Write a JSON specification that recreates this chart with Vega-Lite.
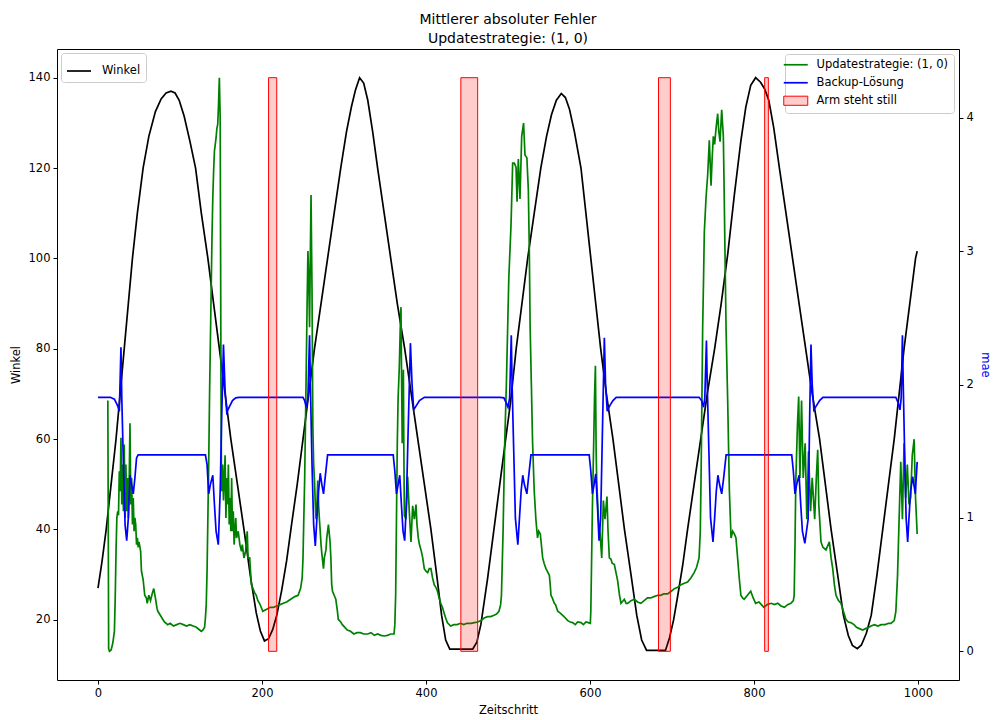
{
  "$schema": "https://vega.github.io/schema/vega-lite/v6.json",
  "width": 902,
  "height": 631,
  "autosize": {"type": "none"},
  "padding": {"left": 57, "top": 49, "right": 36, "bottom": 40},
  "background": "white",
  "title": {
    "text": ["Mittlerer absoluter Fehler", "Updatestrategie: (1, 0)"],
    "fontSize": 14,
    "fontWeight": "normal",
    "font": "DejaVu Sans",
    "color": "black",
    "anchor": "middle",
    "lineHeight": 19,
    "offset": 3
  },
  "config": {
    "font": "DejaVu Sans",
    "view": {"stroke": "black", "strokeWidth": 1},
    "axis": {
      "grid": false,
      "domain": false,
      "tickColor": "black",
      "labelColor": "black",
      "labelFontSize": 11.5,
      "titleFontSize": 11.5,
      "titleFontWeight": "normal",
      "titleColor": "black",
      "tickSize": 4,
      "labelPadding": 3,
      "labelFont": "DejaVu Sans",
      "titleFont": "DejaVu Sans"
    },
    "legend": {
      "title": null,
      "fillColor": "white",
      "strokeColor": "#cccccc",
      "cornerRadius": 3,
      "padding": 5,
      "labelFontSize": 11.5,
      "labelFont": "DejaVu Sans",
      "labelColor": "black",
      "labelOffset": 10,
      "symbolSize": 576,
      "symbolStrokeWidth": 1.7,
      "rowPadding": 5,
      "labelLimit": 300
    }
  },
  "datasets": {
    "winkel": [
      {"t":0,"v":27},{"t":5,"v":33},{"t":10,"v":40},{"t":16,"v":50},{"t":22,"v":60},{"t":27,"v":70},{"t":32,"v":80},{"t":37,"v":90},{"t":42,"v":100},{"t":48,"v":110},{"t":55,"v":120},{"t":62,"v":127},{"t":70,"v":132.5},{"t":77,"v":135.3},{"t":83,"v":136.6},{"t":89,"v":137},{"t":94,"v":136.6},{"t":99,"v":135},{"t":105,"v":131.5},{"t":112,"v":126},{"t":119,"v":120},{"t":126,"v":110},{"t":134,"v":100},{"t":141,"v":90},{"t":148,"v":80},{"t":155,"v":70},{"t":162,"v":60},{"t":170,"v":50},{"t":178,"v":40},{"t":186,"v":29.5},{"t":193,"v":21.5},{"t":198,"v":17.5},{"t":203,"v":15.3},{"t":208,"v":15.8},{"t":213,"v":17.8},{"t":218,"v":21},{"t":224,"v":26.5},{"t":230,"v":33},{"t":236,"v":41},{"t":243,"v":50},{"t":250,"v":60},{"t":257,"v":70},{"t":264,"v":80},{"t":272,"v":90},{"t":280,"v":100},{"t":288,"v":110},{"t":296,"v":120},{"t":303,"v":128},{"t":309,"v":133.5},{"t":314,"v":137.3},{"t":319,"v":140},{"t":324,"v":138.8},{"t":329,"v":135},{"t":335,"v":128},{"t":341,"v":120},{"t":349,"v":110},{"t":357,"v":100},{"t":365,"v":90},{"t":374,"v":80},{"t":382,"v":70},{"t":390,"v":60},{"t":398,"v":50},{"t":406,"v":40},{"t":413,"v":30},{"t":419,"v":21},{"t":424,"v":15.5},{"t":429,"v":13.5},{"t":457,"v":13.5},{"t":462,"v":15},{"t":467,"v":19},{"t":475,"v":29},{"t":485,"v":43},{"t":495,"v":57},{"t":503,"v":68},{"t":510,"v":80},{"t":517,"v":90},{"t":524,"v":100},{"t":532,"v":110},{"t":540,"v":120},{"t":547,"v":127},{"t":553,"v":131.8},{"t":559,"v":135},{"t":565,"v":136.5},{"t":570,"v":135.6},{"t":575,"v":133},{"t":581,"v":128},{"t":589,"v":120},{"t":595,"v":110},{"t":601,"v":100},{"t":607,"v":90},{"t":613,"v":80},{"t":620,"v":70},{"t":628,"v":60},{"t":635,"v":50},{"t":642,"v":40},{"t":650,"v":30},{"t":657,"v":21},{"t":663,"v":15.5},{"t":669,"v":13.2},{"t":692,"v":13.2},{"t":697,"v":16},{"t":702,"v":20},{"t":707,"v":25.3},{"t":713,"v":32},{"t":719,"v":40},{"t":727,"v":50},{"t":735,"v":60},{"t":743,"v":70},{"t":752,"v":80},{"t":760,"v":90},{"t":768,"v":101},{"t":776,"v":114},{"t":784,"v":126},{"t":790,"v":133.5},{"t":796,"v":138.3},{"t":802,"v":140},{"t":808,"v":139},{"t":813,"v":137.5},{"t":818,"v":135},{"t":824,"v":129},{"t":831,"v":120},{"t":839,"v":110},{"t":847,"v":100},{"t":855,"v":90},{"t":863,"v":80},{"t":871,"v":70},{"t":880,"v":60},{"t":887,"v":50},{"t":894,"v":40},{"t":902,"v":30},{"t":909,"v":21},{"t":915,"v":16.5},{"t":920,"v":14.3},{"t":926,"v":13.6},{"t":931,"v":14.4},{"t":937,"v":17},{"t":943,"v":21},{"t":950,"v":30},{"t":957,"v":40},{"t":964,"v":50},{"t":971,"v":60},{"t":977,"v":70},{"t":983,"v":80},{"t":990,"v":90},{"t":997,"v":100},{"t":999,"v":101.6}
    ],
    "green": [
      {"t":12,"v":1.88},{"t":13,"v":0.02},{"t":14,"v":0.0},{"t":16,"v":0.01},{"t":18,"v":0.06},{"t":20,"v":0.15},{"t":21,"v":0.4},{"t":22,"v":0.75},{"t":23,"v":1.0},{"t":24,"v":1.05},{"t":25,"v":1.02},{"t":26,"v":1.35},{"t":27,"v":1.2},{"t":28,"v":1.6},{"t":29,"v":1.1},{"t":30,"v":1.4},{"t":31,"v":1.05},{"t":32,"v":1.55},{"t":33,"v":1.0},{"t":34,"v":1.4},{"t":35,"v":1.05},{"t":36,"v":1.3},{"t":37,"v":1.0},{"t":38,"v":1.25},{"t":39,"v":1.71},{"t":40,"v":1.1},{"t":41,"v":1.3},{"t":42,"v":0.95},{"t":43,"v":1.15},{"t":44,"v":0.9},{"t":45,"v":1.0},{"t":46,"v":0.95},{"t":47,"v":0.8},{"t":48,"v":0.85},{"t":49,"v":0.78},{"t":50,"v":0.82},{"t":52,"v":0.75},{"t":53,"v":0.6},{"t":55,"v":0.54},{"t":57,"v":0.42},{"t":59,"v":0.4},{"t":60,"v":0.36},{"t":62,"v":0.42},{"t":64,"v":0.38},{"t":66,"v":0.43},{"t":68,"v":0.47},{"t":70,"v":0.4},{"t":72,"v":0.32},{"t":73,"v":0.3},{"t":76,"v":0.27},{"t":78,"v":0.25},{"t":81,"v":0.22},{"t":85,"v":0.2},{"t":88,"v":0.21},{"t":92,"v":0.19},{"t":96,"v":0.2},{"t":100,"v":0.21},{"t":104,"v":0.2},{"t":108,"v":0.19},{"t":112,"v":0.2},{"t":116,"v":0.19},{"t":120,"v":0.18},{"t":124,"v":0.16},{"t":126,"v":0.15},{"t":128,"v":0.16},{"t":130,"v":0.18},{"t":131,"v":0.25},{"t":132,"v":0.35},{"t":133,"v":0.6},{"t":134,"v":1.0},{"t":135,"v":1.4},{"t":136,"v":1.9},{"t":137,"v":2.3},{"t":138,"v":2.7},{"t":139,"v":3.1},{"t":140,"v":3.4},{"t":141,"v":3.6},{"t":142,"v":3.75},{"t":143,"v":3.8},{"t":144,"v":3.85},{"t":145,"v":3.92},{"t":146,"v":3.95},{"t":147,"v":4.1},{"t":148,"v":4.3},{"t":149,"v":4.0},{"t":150,"v":2.0},{"t":150.5,"v":1.34},{"t":151,"v":1.2},{"t":152,"v":1.4},{"t":153,"v":1.13},{"t":154,"v":1.3},{"t":155,"v":1.47},{"t":156,"v":1.0},{"t":157,"v":1.3},{"t":158,"v":1.1},{"t":159,"v":1.4},{"t":160,"v":0.95},{"t":161,"v":1.15},{"t":162,"v":0.9},{"t":163,"v":1.3},{"t":164,"v":0.9},{"t":165,"v":1.05},{"t":166,"v":0.8},{"t":168,"v":1.0},{"t":169,"v":0.85},{"t":171,"v":0.9},{"t":173,"v":0.8},{"t":175,"v":0.75},{"t":176,"v":0.8},{"t":178,"v":0.7},{"t":180,"v":0.75},{"t":182,"v":0.9},{"t":183,"v":0.7},{"t":185,"v":0.7},{"t":187,"v":0.5},{"t":189,"v":0.47},{"t":191,"v":0.44},{"t":193,"v":0.42},{"t":195,"v":0.38},{"t":197,"v":0.36},{"t":199,"v":0.33},{"t":201,"v":0.3},{"t":204,"v":0.31},{"t":207,"v":0.32},{"t":210,"v":0.33},{"t":214,"v":0.33},{"t":218,"v":0.34},{"t":222,"v":0.35},{"t":226,"v":0.36},{"t":230,"v":0.37},{"t":235,"v":0.39},{"t":240,"v":0.41},{"t":244,"v":0.42},{"t":247,"v":0.47},{"t":249,"v":0.55},{"t":250,"v":0.7},{"t":251,"v":1.0},{"t":252,"v":1.28},{"t":253,"v":1.7},{"t":254,"v":2.14},{"t":255,"v":2.6},{"t":256,"v":3.0},{"t":257,"v":2.8},{"t":258,"v":2.43},{"t":259,"v":3.0},{"t":259.8,"v":3.42},{"t":260.5,"v":3.0},{"t":261,"v":2.71},{"t":262,"v":1.69},{"t":263,"v":1.4},{"t":264,"v":1.28},{"t":265,"v":1.1},{"t":266,"v":0.99},{"t":267,"v":1.1},{"t":268,"v":1.28},{"t":269,"v":1.1},{"t":270,"v":0.99},{"t":271,"v":0.9},{"t":272,"v":0.8},{"t":273,"v":0.73},{"t":275,"v":0.62},{"t":276,"v":0.7},{"t":278,"v":0.76},{"t":279,"v":0.85},{"t":281,"v":0.95},{"t":283,"v":0.82},{"t":284,"v":0.7},{"t":285,"v":0.5},{"t":286,"v":0.45},{"t":288,"v":0.42},{"t":290,"v":0.39},{"t":292,"v":0.3},{"t":293,"v":0.24},{"t":296,"v":0.22},{"t":298,"v":0.2},{"t":301,"v":0.18},{"t":304,"v":0.16},{"t":308,"v":0.15},{"t":312,"v":0.13},{"t":316,"v":0.14},{"t":320,"v":0.14},{"t":324,"v":0.13},{"t":329,"v":0.13},{"t":333,"v":0.14},{"t":337,"v":0.12},{"t":341,"v":0.13},{"t":345,"v":0.12},{"t":349,"v":0.115},{"t":353,"v":0.12},{"t":357,"v":0.13},{"t":361,"v":0.13},{"t":362,"v":0.2},{"t":363,"v":0.42},{"t":364,"v":1.0},{"t":365,"v":1.56},{"t":366,"v":1.9},{"t":367.5,"v":2.14},{"t":368.5,"v":2.4},{"t":369.5,"v":2.58},{"t":370,"v":2.2},{"t":371,"v":1.56},{"t":372,"v":1.8},{"t":372.4,"v":2.11},{"t":373,"v":1.5},{"t":373.6,"v":1.02},{"t":375.6,"v":0.99},{"t":377.6,"v":1.31},{"t":379.6,"v":1.05},{"t":381.7,"v":0.82},{"t":383.7,"v":1.09},{"t":385.8,"v":0.99},{"t":387.8,"v":1.1},{"t":389,"v":0.95},{"t":390.6,"v":0.85},{"t":392,"v":0.8},{"t":393.9,"v":0.76},{"t":396,"v":0.7},{"t":397.9,"v":0.62},{"t":400,"v":0.6},{"t":402,"v":0.59},{"t":404,"v":0.62},{"t":406,"v":0.62},{"t":408,"v":0.55},{"t":410,"v":0.5},{"t":412,"v":0.48},{"t":414,"v":0.45},{"t":416,"v":0.4},{"t":418,"v":0.36},{"t":420,"v":0.33},{"t":422,"v":0.29},{"t":424,"v":0.25},{"t":426,"v":0.215},{"t":430,"v":0.19},{"t":434,"v":0.2},{"t":438,"v":0.2},{"t":442,"v":0.21},{"t":446,"v":0.2},{"t":450,"v":0.21},{"t":455,"v":0.21},{"t":459,"v":0.215},{"t":463,"v":0.22},{"t":467,"v":0.23},{"t":471,"v":0.25},{"t":475,"v":0.26},{"t":479,"v":0.26},{"t":483,"v":0.27},{"t":486,"v":0.28},{"t":489,"v":0.3},{"t":491,"v":0.35},{"t":492,"v":0.42},{"t":494,"v":0.9},{"t":496,"v":1.56},{"t":498,"v":2.0},{"t":499.6,"v":2.43},{"t":501,"v":2.8},{"t":503.7,"v":3.2},{"t":505.7,"v":3.66},{"t":507.7,"v":3.66},{"t":509.8,"v":3.63},{"t":511,"v":3.37},{"t":512.6,"v":3.69},{"t":514.6,"v":3.39},{"t":516.7,"v":3.86},{"t":519,"v":3.96},{"t":520.7,"v":3.72},{"t":523,"v":3.7},{"t":524.8,"v":3.46},{"t":526,"v":3.0},{"t":527,"v":2.43},{"t":528.5,"v":2.0},{"t":530,"v":1.56},{"t":532,"v":1.2},{"t":534,"v":0.99},{"t":536,"v":0.85},{"t":537.5,"v":0.9},{"t":539.4,"v":0.88},{"t":541,"v":0.78},{"t":542.3,"v":0.7},{"t":544,"v":0.66},{"t":546.3,"v":0.62},{"t":548,"v":0.6},{"t":550.4,"v":0.57},{"t":551.5,"v":0.5},{"t":552.4,"v":0.42},{"t":554,"v":0.4},{"t":556.5,"v":0.36},{"t":558,"v":0.35},{"t":560.6,"v":0.3},{"t":563,"v":0.29},{"t":566.7,"v":0.27},{"t":570,"v":0.25},{"t":572.8,"v":0.23},{"t":576,"v":0.22},{"t":578.9,"v":0.215},{"t":582,"v":0.2},{"t":585,"v":0.22},{"t":589,"v":0.215},{"t":592,"v":0.2},{"t":595,"v":0.22},{"t":598,"v":0.215},{"t":600.4,"v":0.21},{"t":601,"v":0.3},{"t":602,"v":0.7},{"t":603,"v":1.1},{"t":604.5,"v":1.56},{"t":605.5,"v":1.9},{"t":606.6,"v":2.14},{"t":607.5,"v":1.5},{"t":608.2,"v":1.28},{"t":610.2,"v":0.99},{"t":612.3,"v":0.88},{"t":614.3,"v":0.7},{"t":616.3,"v":1.13},{"t":618.3,"v":0.99},{"t":620.7,"v":1.16},{"t":622,"v":0.9},{"t":623.6,"v":0.7},{"t":625.6,"v":0.69},{"t":627,"v":0.66},{"t":629.7,"v":0.65},{"t":632,"v":0.58},{"t":633.7,"v":0.53},{"t":636,"v":0.42},{"t":637.8,"v":0.36},{"t":641.9,"v":0.39},{"t":644,"v":0.36},{"t":646,"v":0.36},{"t":650,"v":0.38},{"t":654,"v":0.39},{"t":658,"v":0.37},{"t":662,"v":0.36},{"t":666,"v":0.38},{"t":670,"v":0.4},{"t":674,"v":0.4},{"t":678,"v":0.41},{"t":682.5,"v":0.42},{"t":686,"v":0.42},{"t":690,"v":0.43},{"t":694.7,"v":0.43},{"t":699,"v":0.45},{"t":702.8,"v":0.47},{"t":707,"v":0.48},{"t":711,"v":0.5},{"t":715,"v":0.51},{"t":719,"v":0.52},{"t":723,"v":0.55},{"t":727,"v":0.59},{"t":730,"v":0.63},{"t":733,"v":0.7},{"t":734.5,"v":0.9},{"t":735.4,"v":1.28},{"t":736.5,"v":1.9},{"t":737.4,"v":2.43},{"t":738.5,"v":2.8},{"t":739.4,"v":3.14},{"t":741.5,"v":3.4},{"t":743.5,"v":3.57},{"t":745.5,"v":3.83},{"t":747.6,"v":3.49},{"t":749,"v":3.7},{"t":750.4,"v":3.86},{"t":752,"v":3.8},{"t":753.7,"v":3.92},{"t":755.7,"v":4.03},{"t":757,"v":3.9},{"t":758.6,"v":3.82},{"t":760.6,"v":4.06},{"t":762.6,"v":3.86},{"t":763.5,"v":3.5},{"t":764.6,"v":3.0},{"t":766,"v":2.4},{"t":768,"v":1.85},{"t":770,"v":1.2},{"t":772,"v":0.85},{"t":774,"v":0.9},{"t":776,"v":0.88},{"t":778,"v":0.85},{"t":780,"v":0.7},{"t":782,"v":0.55},{"t":784,"v":0.42},{"t":786,"v":0.4},{"t":788,"v":0.39},{"t":792,"v":0.42},{"t":796,"v":0.45},{"t":799,"v":0.4},{"t":802,"v":0.36},{"t":806,"v":0.37},{"t":809,"v":0.35},{"t":812,"v":0.33},{"t":816,"v":0.35},{"t":821,"v":0.36},{"t":825,"v":0.35},{"t":829,"v":0.36},{"t":833,"v":0.34},{"t":837,"v":0.33},{"t":841,"v":0.35},{"t":845,"v":0.36},{"t":848,"v":0.38},{"t":849,"v":0.42},{"t":850,"v":0.8},{"t":851,"v":1.28},{"t":853,"v":1.7},{"t":854.5,"v":1.91},{"t":856,"v":1.3},{"t":858,"v":1.88},{"t":860,"v":1.3},{"t":862.4,"v":1.56},{"t":864.4,"v":0.99},{"t":866.5,"v":1.5},{"t":869,"v":1.05},{"t":871,"v":1.3},{"t":874,"v":0.99},{"t":876,"v":1.3},{"t":877.7,"v":1.51},{"t":879,"v":1.1},{"t":881.7,"v":0.82},{"t":884,"v":0.78},{"t":887.8,"v":0.76},{"t":891.9,"v":0.82},{"t":894,"v":0.7},{"t":896,"v":0.62},{"t":898,"v":0.5},{"t":900,"v":0.42},{"t":903,"v":0.38},{"t":906,"v":0.36},{"t":909,"v":0.3},{"t":912,"v":0.24},{"t":915,"v":0.22},{"t":918,"v":0.215},{"t":922,"v":0.2},{"t":925,"v":0.18},{"t":928.5,"v":0.17},{"t":932.6,"v":0.16},{"t":936,"v":0.17},{"t":940,"v":0.18},{"t":942.7,"v":0.19},{"t":947,"v":0.2},{"t":951,"v":0.19},{"t":955,"v":0.2},{"t":960,"v":0.2},{"t":964,"v":0.21},{"t":967,"v":0.21},{"t":971,"v":0.23},{"t":973,"v":0.3},{"t":975,"v":0.56},{"t":977,"v":1.0},{"t":979,"v":1.42},{"t":981,"v":0.99},{"t":983,"v":1.56},{"t":985,"v":1.15},{"t":987,"v":1.4},{"t":989,"v":1.1},{"t":991,"v":1.15},{"t":993,"v":1.47},{"t":995.3,"v":1.59},{"t":997,"v":1.15},{"t":999,"v":0.88}
    ],
    "blue": [
      {"t":0,"v":1.904},{"t":15,"v":1.904},{"t":20,"v":1.89},{"t":24,"v":1.84},{"t":26,"v":1.8},{"t":28,"v":2.28},{"t":29,"v":1.9},{"t":31,"v":1.4},{"t":33,"v":0.95},{"t":35,"v":0.83},{"t":37,"v":1.0},{"t":39,"v":1.32},{"t":41,"v":1.25},{"t":43,"v":1.18},{"t":45,"v":1.3},{"t":47,"v":1.45},{"t":49,"v":1.473},{"t":131,"v":1.473},{"t":133,"v":1.4},{"t":135,"v":1.18},{"t":137,"v":1.25},{"t":140,"v":1.32},{"t":142,"v":1.1},{"t":144,"v":0.9},{"t":146.7,"v":0.8},{"t":149,"v":1.2},{"t":151,"v":1.8},{"t":153,"v":2.3},{"t":155,"v":1.95},{"t":157,"v":1.79},{"t":160,"v":1.83},{"t":164,"v":1.88},{"t":168,"v":1.9},{"t":172,"v":1.904},{"t":250,"v":1.904},{"t":252,"v":1.88},{"t":254,"v":1.83},{"t":256,"v":1.9},{"t":258,"v":2.37},{"t":259,"v":2.0},{"t":261,"v":1.4},{"t":263,"v":0.95},{"t":265,"v":0.79},{"t":267,"v":1.0},{"t":269,"v":1.2},{"t":271,"v":1.335},{"t":273,"v":1.25},{"t":275,"v":1.18},{"t":277,"v":1.3},{"t":280,"v":1.473},{"t":360,"v":1.473},{"t":362,"v":1.35},{"t":364,"v":1.18},{"t":366,"v":1.25},{"t":368,"v":1.32},{"t":370,"v":1.1},{"t":372,"v":0.9},{"t":374,"v":0.83},{"t":376,"v":1.1},{"t":378,"v":1.6},{"t":381,"v":2.31},{"t":383,"v":2.0},{"t":385,"v":1.81},{"t":388,"v":1.84},{"t":392,"v":1.88},{"t":398,"v":1.904},{"t":490,"v":1.904},{"t":495,"v":1.9},{"t":498,"v":1.86},{"t":500,"v":1.83},{"t":502,"v":1.9},{"t":504,"v":2.37},{"t":505,"v":2.0},{"t":507,"v":1.5},{"t":509,"v":1.0},{"t":512,"v":0.8},{"t":514,"v":1.0},{"t":516,"v":1.2},{"t":518,"v":1.32},{"t":520,"v":1.25},{"t":523,"v":1.18},{"t":525,"v":1.3},{"t":528,"v":1.473},{"t":599,"v":1.473},{"t":601,"v":1.35},{"t":603,"v":1.18},{"t":605,"v":1.25},{"t":607,"v":1.33},{"t":609,"v":1.1},{"t":611,"v":0.83},{"t":613,"v":1.0},{"t":615,"v":1.6},{"t":617.5,"v":2.35},{"t":619,"v":2.0},{"t":621,"v":1.8},{"t":624,"v":1.84},{"t":628,"v":1.88},{"t":632,"v":1.904},{"t":733,"v":1.904},{"t":736,"v":1.88},{"t":738.5,"v":1.83},{"t":740,"v":1.9},{"t":742,"v":2.33},{"t":743,"v":2.0},{"t":745,"v":1.5},{"t":747,"v":1.0},{"t":750,"v":0.82},{"t":752,"v":1.0},{"t":754,"v":1.2},{"t":756,"v":1.32},{"t":758,"v":1.25},{"t":760.6,"v":1.18},{"t":763,"v":1.3},{"t":766,"v":1.473},{"t":846,"v":1.473},{"t":848,"v":1.35},{"t":850,"v":1.18},{"t":852,"v":1.25},{"t":855,"v":1.32},{"t":857,"v":1.1},{"t":859,"v":0.9},{"t":862,"v":0.81},{"t":866,"v":0.99},{"t":868,"v":1.8},{"t":869.5,"v":2.3},{"t":871,"v":2.0},{"t":873,"v":1.81},{"t":876,"v":1.84},{"t":880,"v":1.88},{"t":884,"v":1.904},{"t":973,"v":1.904},{"t":976,"v":1.86},{"t":978,"v":1.81},{"t":979.5,"v":1.9},{"t":981,"v":2.37},{"t":982,"v":2.0},{"t":984,"v":1.4},{"t":985.5,"v":1.0},{"t":987.4,"v":0.82},{"t":989,"v":1.0},{"t":991,"v":1.2},{"t":993.5,"v":1.31},{"t":996.7,"v":1.18},{"t":999,"v":1.42}
    ],
    "still": [
      {"s":208,"e":218,"lo":0,"hi":4.3},
      {"s":442.5,"e":463,"lo":0,"hi":4.3},
      {"s":683.5,"e":698,"lo":0,"hi":4.3},
      {"s":813,"e":817.5,"lo":0,"hi":4.3}
    ]
  },
  "layer": [
    {
      "data": {"name": "winkel"},
      "mark": {"type": "line", "strokeWidth": 1.7, "clip": true},
      "encoding": {
        "x": {"field": "t", "type": "quantitative", "scale": {"domain": [-50, 1050], "nice": false, "zero": false}, "axis": {"values": [0, 200, 400, 600, 800, 1000], "format": "d", "title": "Zeitschritt", "titlePadding": 6}},
        "y": {"field": "v", "type": "quantitative", "scale": {"domain": [6.65, 146.35], "nice": false, "zero": false}, "axis": {"orient": "left", "values": [20, 40, 60, 80, 100, 120, 140], "title": "Winkel", "titlePadding": 7}},
        "color": {"datum": "Winkel", "scale": {"domain": ["Winkel"], "range": ["black"]}, "legend": {"orient": "top-left", "offset": 4, "symbolType": {"expr": "'stroke'"}}}
      }
    },
    {
      "layer": [
        {
          "data": {"name": "green"},
          "mark": {"type": "line", "strokeWidth": 1.7, "clip": true},
          "encoding": {
            "x": {"field": "t", "type": "quantitative"},
            "y": {"field": "v", "type": "quantitative", "scale": {"domain": [-0.215, 4.515], "nice": false, "zero": false}, "axis": {"orient": "right", "values": [0, 1, 2, 3, 4], "title": "mae", "titleColor": "blue", "titlePadding": 6}},
            "color": {
              "datum": "Updatestrategie: (1, 0)",
              "scale": {"domain": ["Updatestrategie: (1, 0)", "Backup-Lösung", "Arm steht still"], "range": ["green", "blue", "red"]},
              "legend": {
                "orient": "top-right",
                "offset": 5,
                "labelOffset": 15,
                "symbolType": {"expr": "datum.value === 'Arm steht still' ? 'M-1,-0.38H1V0.38H-1Z' : 'stroke'"},
                "symbolStrokeWidth": {"expr": "datum.value === 'Arm steht still' ? 1 : 1.7"},
                "encode": {
                  "symbols": {
                    "update": {
                      "fill": {"signal": "datum.value === 'Arm steht still' ? '#ffcccc' : 'transparent'"},
                      "stroke": {"signal": "datum.value === 'Arm steht still' ? 'red' : (datum.value === 'Backup-Lösung' ? 'blue' : 'green')"}
                    }
                  }
                }
              }
            }
          }
        },
        {
          "data": {"name": "blue"},
          "mark": {"type": "line", "strokeWidth": 1.7, "clip": true},
          "encoding": {
            "x": {"field": "t", "type": "quantitative"},
            "y": {"field": "v", "type": "quantitative", "axis": {"orient": "right", "values": [0, 1, 2, 3, 4], "title": "mae", "titleColor": "blue", "titlePadding": 6}},
            "color": {"datum": "Backup-Lösung"}
          }
        },
        {
          "data": {"name": "still"},
          "mark": {"type": "rect", "filled": false, "fill": "#ff0000", "fillOpacity": 0.2, "strokeWidth": 1, "clip": true},
          "encoding": {
            "x": {"field": "s", "type": "quantitative"},
            "x2": {"field": "e"},
            "y": {"field": "hi", "type": "quantitative", "axis": {"orient": "right", "values": [0, 1, 2, 3, 4], "title": "mae", "titleColor": "blue", "titlePadding": 6}},
            "y2": {"field": "lo"},
            "color": {"datum": "Arm steht still"}
          }
        }
      ]
    }
  ],
  "resolve": {"scale": {"y": "independent", "color": "independent"}}
}
